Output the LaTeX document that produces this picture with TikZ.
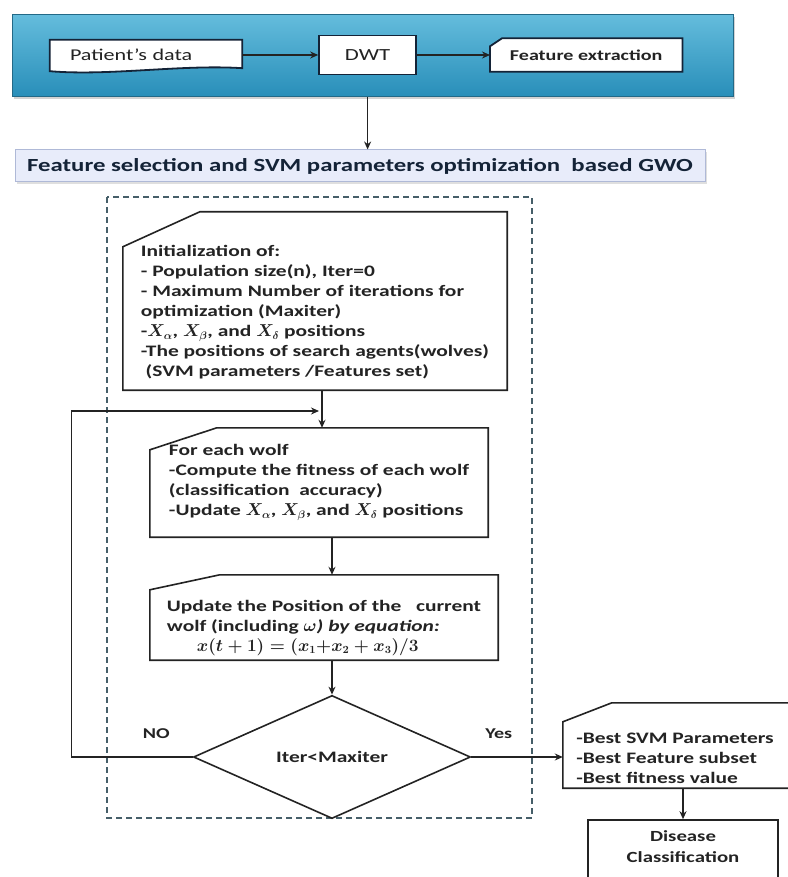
\documentclass[tikz,border=0pt]{standalone}
\usepackage{fontspec}
\setmainfont{Carlito}[FakeStretch=1.34]
\usetikzlibrary{shapes.geometric, arrows.meta, positioning, shadows}

\pgfdeclarelayer{back}
\pgfdeclarelayer{mid}
\pgfsetlayers{back,mid,main}

\definecolor{bartop}{RGB}{100,188,220}
\definecolor{barbot}{RGB}{40,142,185}
\definecolor{baredge}{RGB}{35,105,135}
\definecolor{gwofill}{RGB}{232,236,250}
\definecolor{gwoedge}{RGB}{175,185,215}
\definecolor{ink}{RGB}{35,35,35}
\definecolor{rowink}{RGB}{20,35,55}
\definecolor{frameink}{RGB}{70,95,105}

\newcommand{\topgap}[1]{\rule{0pt}{#1}}
\newcommand{\botgap}[1]{\rule[-#1]{0pt}{#1}}
% box outline with the top left corner cut off
\newcommand{\cutoutline}[4][boxline]{%
  \begin{pgfonlayer}{mid}
  \draw[#1] (#2.south west) -- ([yshift=-#4]#2.north west) -- ([xshift=#3]#2.north west) -- (#2.north east) -- (#2.south east) -- cycle;
  \end{pgfonlayer}}

\begin{document}
\begin{tikzpicture}[x=1pt, y=-1pt,
        node distance=0mm,
        headbar/.style={draw=baredge, line width=1pt, top color=bartop, bottom color=barbot, minimum width=721pt, minimum height=82pt, drop shadow={opacity=0.35}},
        rowtext/.style={draw=none, inner sep=0pt, text=ink, font=\fontsize{16.5}{19}\selectfont},
        rowbox/.style={draw=rowink, line width=1.8pt, fill=white, inner sep=0pt, text=ink, font=\fontsize{17}{19}\selectfont},
        rowline/.style={draw=rowink, line width=1.8pt, fill=white},
        gwobar/.style={draw=gwoedge, line width=1pt, fill=gwofill, minimum width=690pt, minimum height=32pt, text=rowink, font=\fontsize{18.5}{20}\selectfont\bfseries, drop shadow={opacity=0.25}},
        boxline/.style={draw=ink, line width=1.6pt, fill=white},
        inbox/.style={draw=none, inner xsep=12pt, inner ysep=0pt, align=left, text=ink, font=\fontsize{16}{20}\selectfont\bfseries\boldmath},
        decision/.style={diamond, draw=ink, line width=1.6pt, minimum width=277pt, minimum height=111pt, inner sep=0pt, text=ink, font=\fontsize{16}{20}\selectfont\bfseries},
        plainbox/.style={draw=ink, line width=1.6pt, minimum width=190pt, minimum height=66pt, align=center, text=ink, font=\fontsize{15.5}{21}\selectfont\bfseries},
        arr/.style={draw=ink, line width=1.4pt, -{Stealth[length=8pt,width=7pt]}},
        lbl/.style={text=ink, font=\fontsize{15}{18}\selectfont\bfseries},
        dashframe/.style={draw=frameink, line width=1.5pt, dash pattern=on 6pt off 4pt}
    ]
    \useasboundingbox (0,0) rectangle (787,877);

    % Header bar with the preprocessing chain
    \begin{pgfonlayer}{back}
    \node[headbar] (bar) at (372.5,56) {};
    \end{pgfonlayer}
    \node[rowtext, minimum width=192pt, minimum height=30pt, text width=152pt, inner xsep=20pt, align=left] (patient) at (146,55) {Patient's data};
    \node[rowbox, right=76pt of patient, minimum width=97pt, minimum height=39pt] (dwt) {DWT};
    \node[rowtext, right=73pt of dwt, minimum width=192pt, minimum height=33pt, font=\fontsize{15}{17}\selectfont\bfseries] (feat) {Feature extraction};
    \begin{pgfonlayer}{mid}
    \draw[rowline] ([yshift=-1pt]patient.south west) -- (patient.north west) -- (patient.north east) -- ([yshift=2pt]patient.south east)
        .. controls ([xshift=-60pt,yshift=6pt]patient.south east) and ([xshift=60pt,yshift=-6pt]patient.south west) .. ([yshift=-1pt]patient.south west) -- cycle;
    \end{pgfonlayer}
    \cutoutline[rowline]{feat}{12pt}{8pt}
    \draw[arr] (patient) -- (dwt);
    \draw[arr] (dwt) -- (feat);

    % GWO stage
    \node[gwobar] (gwo) at (360,166) {Feature selection and SVM parameters optimization\ \ based GWO};
    \draw[arr] (bar.south -| dwt) -- (gwo.north -| dwt);
    \draw[dashframe] (107,197) rectangle (532,818);

    \node[inbox, minimum width=384pt, minimum height=178pt] (init) at (315,301)
        {\topgap{34pt}Initialization of:\\
         - Population size(n), Iter=0\\
         - Maximum Number of iterations for\\
         optimization (Maxiter)\\
         -$X_\alpha$, $X_\beta$, and $X_\delta$ positions\\
         -The positions of search agents(wolves)\\
         \ (SVM parameters /Features set)};
    \cutoutline{init}{77pt}{35pt}

    \node[inbox, minimum width=338pt, minimum height=109pt] (each) at (319,482.5)
        {For each wolf\\
         -Compute the fitness of each wolf\\
         (classification\ \ accuracy)\\
         -Update $X_\alpha$, $X_\beta$, and $X_\delta$ positions};
    \cutoutline{each}{67pt}{22pt}

    \node[inbox, minimum width=348pt, minimum height=85pt] (update) at (324,617.5)
        {\topgap{32pt}Update the Position of the\ \ \ current\\
         wolf (including \textit{$\omega$) by equation:}\\
         \hspace*{30pt}$x(t+1) = (x_1{+}x_2 + x_3)/3$};
    \cutoutline{update}{70pt}{15pt}

    \node[decision] (dia) at (332,757) {Iter<Maxiter};

    % Outputs
    \node[inbox, minimum width=240pt, minimum height=85pt, inner xsep=10pt] (result) at (683,745.5)
        {\topgap{36pt}-Best SVM Parameters\hspace*{16pt}\\
         -Best Feature subset\\
         -Best fitness value};
    \cutoutline{result}{49pt}{19pt}
    \node[plainbox] (disease) at (683,853) {Disease\\Classification\botgap{12pt}};

    % Connectors
    \coordinate (join) at (322,411);
    \draw[arr] (init.south -| join) -- (join |- each.north);
    \draw[arr] (each.south -| dia) -- (update.north -| dia);
    \draw[arr] (update.south -| dia) -- (dia.north);
    \draw[arr] (dia.west) -- node[lbl, pos=0.3, above=14pt] {NO} ++(-121,0) |- ([xshift=-3pt]join);
    \draw[arr] (dia.east) -- node[lbl, pos=0.3, above=14pt] {Yes} (dia.east -| result.west);
    \draw[arr] (result.south -| disease) -- (disease.north);

\end{tikzpicture}
\end{document}
